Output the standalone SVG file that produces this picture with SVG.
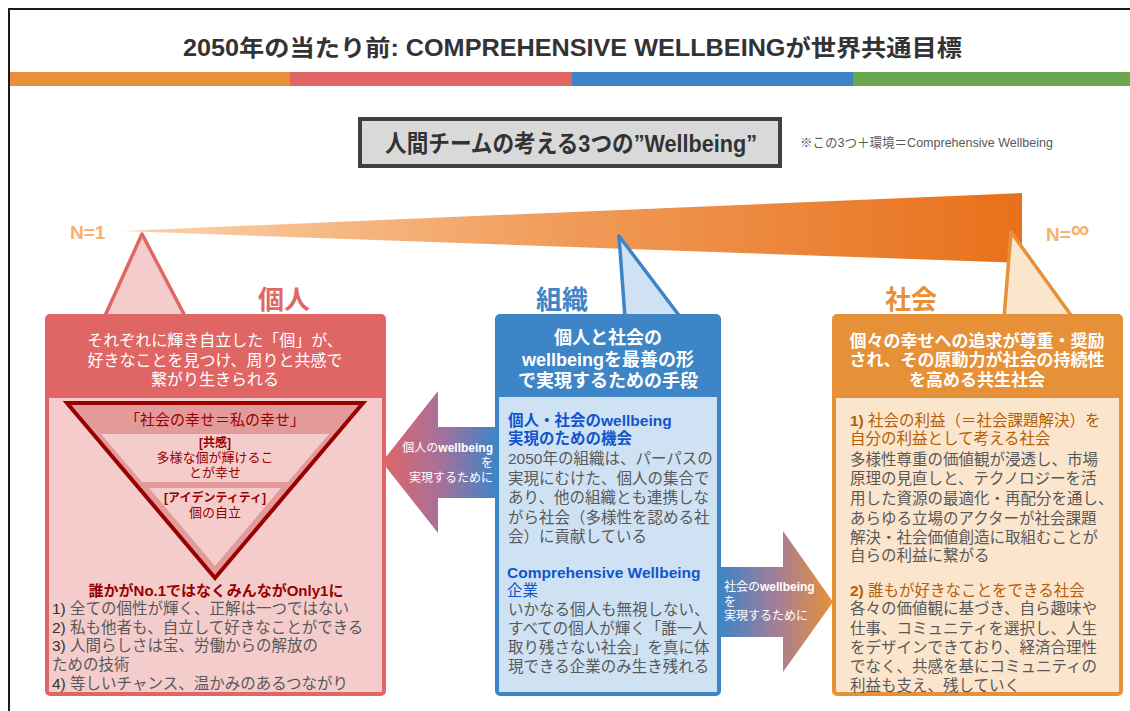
<svg xmlns="http://www.w3.org/2000/svg" width="1130" height="711" viewBox="0 0 1130 711">
<defs>
<linearGradient id="wedgeGrad" x1="0" y1="0" x2="1" y2="0">
<stop offset="0" stop-color="#fcd3aa"/>
<stop offset="0.5" stop-color="#f09a58"/>
<stop offset="1" stop-color="#e8701a"/>
</linearGradient>
<linearGradient id="leftArrowGrad" x1="0" y1="0" x2="1" y2="0">
<stop offset="0" stop-color="#e06666"/>
<stop offset="0.5" stop-color="#a8709a"/>
<stop offset="1" stop-color="#3d85c6"/>
</linearGradient>
<linearGradient id="rightArrowGrad" x1="0" y1="0" x2="1" y2="0">
<stop offset="0" stop-color="#3d85c6"/>
<stop offset="0.5" stop-color="#a47d98"/>
<stop offset="1" stop-color="#e69138"/>
</linearGradient>
<style>
text{font-family:"Liberation Sans","Noto Sans CJK JP",sans-serif;}
.body{font-size:15.5px;fill:#595959;}
.hdr{fill:#ffffff;text-anchor:middle;}
.lbl{font-size:26px;font-weight:bold;text-anchor:middle;}
.arr{font-size:12px;fill:#ffffff;}
.b{font-weight:bold;}
</style>
</defs>
<rect x="9" y="9" width="1200" height="800" fill="#ffffff" stroke="#1a1a1a" stroke-width="2"/>
<g id="title">
<text x="183" y="56" font-size="23" font-weight="bold" fill="#333333" textLength="779" lengthAdjust="spacingAndGlyphs">2050年の当たり前: COMPREHENSIVE WELLBEINGが世界共通目標</text>
</g>
<g id="colorbar">
<rect x="10" y="72" width="280" height="14" fill="#e69138"/>
<rect x="290" y="72" width="282" height="14" fill="#e06666"/>
<rect x="572" y="72" width="281" height="14" fill="#3d85c6"/>
<rect x="853" y="72" width="277" height="14" fill="#6aa84f"/>
</g>
<g id="header">
<rect x="360" y="119" width="420" height="47" fill="#d9d9d9" stroke="#404040" stroke-width="4"/>
<text x="385" y="152" font-size="24" font-weight="bold" fill="#333333" textLength="372" lengthAdjust="spacingAndGlyphs">人間チームの考える3つの”Wellbeing”</text>
<text x="800" y="147" font-size="13" fill="#595959" textLength="253" lengthAdjust="spacingAndGlyphs">※この3つ＋環境＝Comprehensive Wellbeing</text>
</g>
<g id="scale">
<polygon points="122,231 1022,193 1022,263" fill="url(#wedgeGrad)"/>
<text x="70" y="239" font-size="19" font-weight="bold" fill="#f6b26b">N=1</text>
<text x="1046" y="241" font-size="19" font-weight="bold" fill="#f6b26b">N=<tspan font-size="26" dy="-3">∞</tspan></text>
</g>
<g id="node-kojin">
<polygon points="142,234 104,318 186,318" fill="#f4cccc" stroke="#e06666" stroke-width="3.5" stroke-linejoin="round"/>
<text x="284" y="309" class="lbl" fill="#e06666">個人</text>
<rect x="47" y="316" width="337" height="378" rx="3" fill="#f4cccc" stroke="#e06666" stroke-width="4"/>
<rect x="47" y="316" width="337" height="82" rx="3" fill="#e06666"/>
<text class="hdr" font-size="16"><tspan x="215" y="346">それぞれに輝き自立した「個」が、</tspan><tspan x="215" y="366">好きなことを見つけ、周りと共感で</tspan><tspan x="215" y="385">繋がり生きられる</tspan></text>
<polygon points="67,403 363,403 215,578" fill="#e39a9a" stroke="#990000" stroke-width="4" stroke-linejoin="miter"/>
<polygon points="101,434 329,434 288,482 142,482" fill="#f4cccc"/>
<polygon points="149,488 281,488 215,566" fill="#f4cccc"/>
<text x="215" y="425" font-size="15" fill="#990000" text-anchor="middle">「社会の幸せ＝私の幸せ」</text>
<text x="215" y="447" font-size="12" font-weight="bold" fill="#990000" text-anchor="middle">[共感]</text>
<text x="215" y="462" font-size="13" fill="#990000" text-anchor="middle">多様な個が輝けるこ</text>
<text x="215" y="477" font-size="13" fill="#990000" text-anchor="middle">とが幸せ</text>
<text x="215" y="502" font-size="12" font-weight="bold" fill="#990000" text-anchor="middle">[アイデンティティ]</text>
<text x="215" y="517" font-size="13" fill="#990000" text-anchor="middle">個の自立</text>
<text x="216" y="596" font-size="15" font-weight="bold" fill="#990000" text-anchor="middle">誰かがNo.1ではなくみんながOnly1に</text>
<text class="body"><tspan x="52" y="614"><tspan fill="#333333">1)</tspan> 全ての個性が輝く、正解は一つではない</tspan><tspan x="52" y="633"><tspan fill="#333333">2)</tspan> 私も他者も、自立して好きなことができる</tspan><tspan x="52" y="651"><tspan fill="#333333">3)</tspan> 人間らしさは宝、労働からの解放の</tspan><tspan x="52" y="670">ための技術</tspan><tspan x="52" y="689"><tspan fill="#333333">4)</tspan> 等しいチャンス、温かみのあるつながり</tspan></text>
</g>
<g id="node-soshiki">
<polygon points="619,236 625,318 681,318" fill="#cfe2f3" stroke="#3d85c6" stroke-width="3.5" stroke-linejoin="round"/>
<text x="562" y="309" class="lbl" fill="#3d85c6">組織</text>
<rect x="497" y="316" width="222" height="378" rx="3" fill="#cfe2f3" stroke="#3d85c6" stroke-width="4"/>
<rect x="497" y="316" width="222" height="81" rx="3" fill="#3d85c6"/>
<text class="hdr b" font-size="18"><tspan x="608" y="344">個人と社会の</tspan><tspan x="608" y="366">wellbeingを最善の形</tspan><tspan x="608" y="387">で実現するための手段</tspan></text>
<text font-size="15.5" font-weight="bold" fill="#1155cc"><tspan x="508" y="426">個人・社会のwellbeing</tspan><tspan x="508" y="444">実現のための機会</tspan></text>
<text class="body"><tspan x="508" y="464">2050年の組織は、パーパスの</tspan><tspan x="508" y="484">実現にむけた、個人の集合で</tspan><tspan x="508" y="503">あり、他の組織とも連携しな</tspan><tspan x="508" y="523">がら社会（多様性を認める社</tspan><tspan x="508" y="542">会）に貢献している</tspan></text>
<text font-size="15.5" font-weight="bold" fill="#1155cc"><tspan x="507" y="578">Comprehensive Wellbeing</tspan><tspan x="507" y="596" font-weight="normal">企業</tspan></text>
<text class="body"><tspan x="508" y="615">いかなる個人も無視しない、</tspan><tspan x="508" y="634">すべての個人が輝く「誰一人</tspan><tspan x="508" y="653">取り残さない社会」を真に体</tspan><tspan x="508" y="672">現できる企業のみ生き残れる</tspan></text>
</g>
<g id="node-shakai">
<polygon points="1011,232 1004,318 1073,318" fill="#fce5cd" stroke="#e69138" stroke-width="3.5" stroke-linejoin="round"/>
<text x="911" y="309" class="lbl" fill="#e69138">社会</text>
<rect x="834" y="316" width="287" height="378" rx="3" fill="#fce5cd" stroke="#e69138" stroke-width="4"/>
<rect x="834" y="316" width="287" height="82" rx="3" fill="#e69138"/>
<text class="hdr b" font-size="17"><tspan x="977" y="347">個々の幸せへの追求が尊重・奨励</tspan><tspan x="977" y="366">され、その原動力が社会の持続性</tspan><tspan x="977" y="386">を高める共生社会</tspan></text>
<text font-size="15.5" fill="#b45f06"><tspan x="850" y="426"><tspan font-weight="bold">1)</tspan> 社会の利益（＝社会課題解決）を</tspan><tspan x="850" y="444">自分の利益として考える社会</tspan></text>
<text class="body"><tspan x="850" y="465">多様性尊重の価値観が浸透し、市場</tspan><tspan x="850" y="484">原理の見直しと、テクノロジーを活</tspan><tspan x="850" y="504">用した資源の最適化・再配分を通し、</tspan><tspan x="850" y="524">あらゆる立場のアクターが社会課題</tspan><tspan x="850" y="543">解決・社会価値創造に取組むことが</tspan><tspan x="850" y="561">自らの利益に繋がる</tspan></text>
<text x="850" y="596" font-size="15.5" fill="#b45f06"><tspan font-weight="bold">2)</tspan> 誰もが好きなことをできる社会</text>
<text class="body"><tspan x="850" y="614">各々の価値観に基づき、自ら趣味や</tspan><tspan x="850" y="634">仕事、コミュニティを選択し、人生</tspan><tspan x="850" y="653">をデザインできており、経済合理性</tspan><tspan x="850" y="672">でなく、共感を基にコミュニティの</tspan><tspan x="850" y="691">利益も支え、残していく</tspan></text>
</g>
<g id="connectors">
<g id="arrow-to-kojin">
<polygon points="382,462 438,391 438,427 497,427 497,498 438,498 438,533" fill="url(#leftArrowGrad)"/>
<text class="arr" text-anchor="end"><tspan x="493" y="452">個人の<tspan font-weight="bold">wellbeing</tspan></tspan><tspan x="493" y="467">を</tspan><tspan x="493" y="482">実現するために</tspan></text>
</g>
<g id="arrow-to-shakai">
<polygon points="720,567 783,567 783,531 833,602 783,672 783,637 720,637" fill="url(#rightArrowGrad)"/>
<text class="arr"><tspan x="724" y="591">社会の<tspan font-weight="bold">wellbeing</tspan></tspan><tspan x="724" y="606">を</tspan><tspan x="724" y="620">実現するために</tspan></text>
</g>
</g>
</svg>
